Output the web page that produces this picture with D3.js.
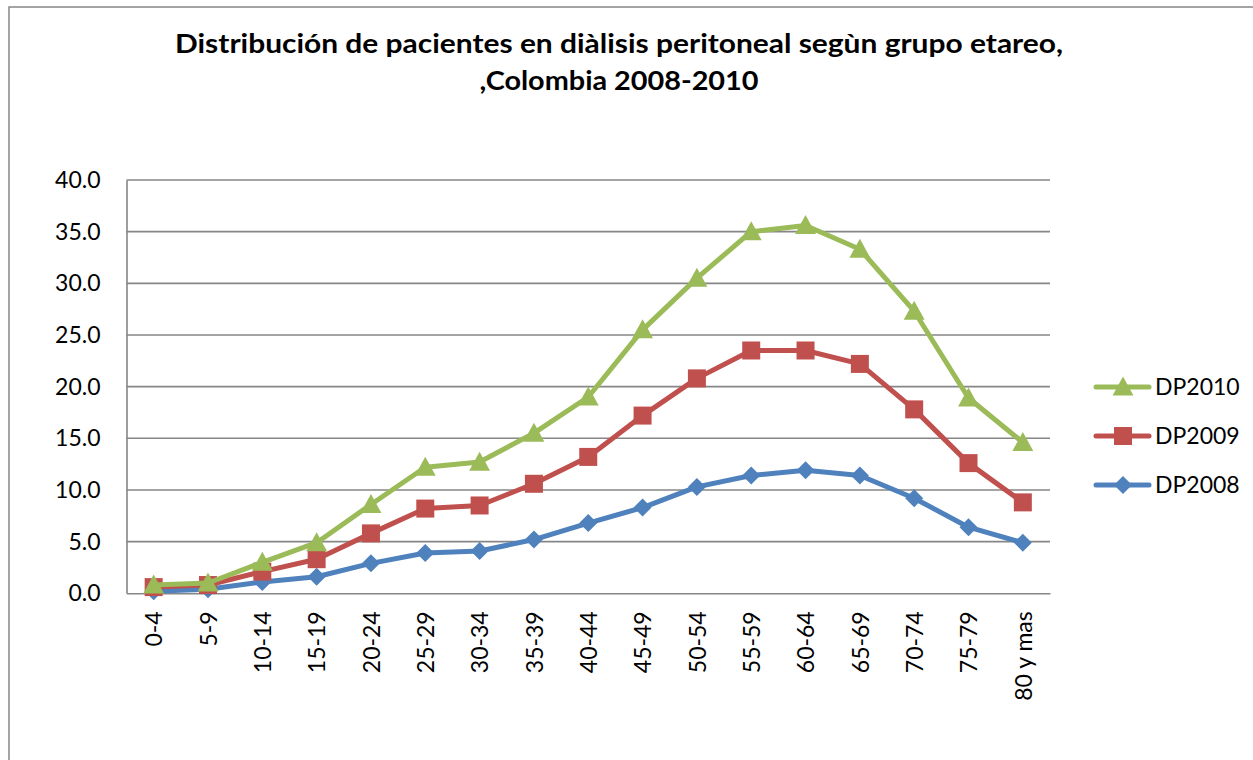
<!DOCTYPE html>
<html>
<head>
<meta charset="utf-8">
<script src="https://cdn.jsdelivr.net/npm/d3@7"></script>
<style>
  html, body { margin: 0; padding: 0; background: #fff; }
  svg { display: block; }
</style>
</head>
<body>
<svg id="chart" width="1253" height="760"></svg>
<script>
const categories = ["0-4","5-9","10-14","15-19","20-24","25-29","30-34","35-39","40-44","45-49","50-54","55-59","60-64","65-69","70-74","75-79","80 y mas"];
const dp2008 = [0.2, 0.4, 1.1, 1.6, 2.9, 3.9, 4.1, 5.2, 6.8, 8.3, 10.3, 11.4, 11.9, 11.4, 9.2, 6.4, 4.9];
const dp2009 = [0.6, 0.8, 2.1, 3.3, 5.8, 8.2, 8.5, 10.6, 13.2, 17.2, 20.8, 23.5, 23.5, 22.2, 17.8, 12.6, 8.8];
const dp2010 = [0.8, 1.0, 3.0, 4.9, 8.6, 12.2, 12.7, 15.5, 19.0, 25.5, 30.5, 35.0, 35.6, 33.3, 27.3, 18.9, 14.6];
const yTicks = [0, 5, 10, 15, 20, 25, 30, 35, 40];
const titleLines = ["Distribución de pacientes en diàlisis peritoneal segùn grupo etareo,", ",Colombia 2008-2010"];

const series = [
  { name: "DP2008", values: dp2008, color: "#4F81BD", marker: "diamond" },
  { name: "DP2009", values: dp2009, color: "#C0504D", marker: "square" },
  { name: "DP2010", values: dp2010, color: "#9BBB59", marker: "triangle" }
];

(function () {
const svg = d3.select("#chart");
const font = "Lato, 'Open Sans', sans-serif";
const pLeft = 126.5, pRight = 1050, pTop = 180, pBottom = 593.3;

// outer chart border (extends beyond view)
svg.append("rect").attr("x", 9).attr("y", 7).attr("width", 1300).attr("height", 800)
  .attr("fill", "#fff").attr("stroke", "#868686").attr("stroke-width", 1.5);

// title
const tw = [888, 279];
titleLines.forEach((t, i) => {
  svg.append("text").attr("x", 619).attr("y", 52.5 + i * 37)
    .attr("text-anchor", "middle").attr("font-family", font).attr("font-weight", "bold")
    .attr("font-size", 26).attr("fill", "#000")
    .attr("textLength", tw[i]).attr("lengthAdjust", "spacingAndGlyphs")
    .text(t);
});

const x = d3.scalePoint().domain(categories).range([pLeft, pRight]).padding(0.5);
const y = d3.scaleLinear().domain([0, 40]).range([pBottom, pTop]);

// gridlines
svg.append("g").selectAll("line").data(yTicks.filter(d => d > 0)).join("line")
  .attr("x1", pLeft).attr("x2", pRight).attr("y1", d => y(d)).attr("y2", d => y(d))
  .attr("stroke", "#868686").attr("stroke-width", 1.6);

// axes
const yAxis = svg.append("g").attr("transform", `translate(${pLeft},0)`)
  .call(d3.axisLeft(y).tickValues(yTicks).tickFormat(d3.format(".1f")).tickSize(0).tickPadding(26));
yAxis.select(".domain").attr("stroke", "#868686").attr("stroke-width", 1.6);
yAxis.selectAll("text").attr("font-family", font).attr("font-size", 23).attr("fill", "#000");

const xAxis = svg.append("g").attr("transform", `translate(0,${pBottom})`)
  .call(d3.axisBottom(x).tickSize(0).tickPadding(0));
xAxis.select(".domain").attr("stroke", "#868686").attr("stroke-width", 1.6);
xAxis.selectAll("text")
  .attr("font-family", font).attr("font-size", 23).attr("fill", "#000")
  .attr("text-anchor", "end")
  .attr("transform", "rotate(-90)")
  .attr("x", -18).attr("y", 0).attr("dy", "0.36em");

function markerPath(type, s) {
  if (type === "diamond") return `M0,${-s}L${s},0L0,${s}L${-s},0Z`;
  if (type === "square") return `M${-s},${-s}H${s}V${s}H${-s}Z`;
  return `M0,${-s * 1.1}L${s * 1.1},${s * 0.9}L${-s * 1.1},${s * 0.9}Z`;
}
const markerSize = { diamond: 9, square: 9, triangle: 9.5 };

const line = d3.line().x((d, i) => x(categories[i])).y(d => y(d));

series.forEach(s => {
  const g = svg.append("g");
  g.append("path").datum(s.values).attr("d", line)
    .attr("fill", "none").attr("stroke", s.color).attr("stroke-width", 5)
    .attr("stroke-linejoin", "round").attr("stroke-linecap", "round");
  g.selectAll("path.m").data(s.values).join("path").attr("class", "m")
    .attr("d", markerPath(s.marker, markerSize[s.marker]))
    .attr("transform", (d, i) => `translate(${x(categories[i])},${y(d)})`)
    .attr("fill", s.color);
});

// legend
const legendItems = [series[2], series[1], series[0]];
const legendY = [387, 436, 485];
legendItems.forEach((s, i) => {
  const g = svg.append("g").attr("transform", `translate(0,${legendY[i]})`);
  g.append("line").attr("x1", 1096).attr("x2", 1149).attr("y1", 0).attr("y2", 0)
    .attr("stroke", s.color).attr("stroke-width", 5).attr("stroke-linecap", "round");
  g.append("path").attr("d", markerPath(s.marker, markerSize[s.marker]))
    .attr("transform", "translate(1123,0)").attr("fill", s.color);
  g.append("text").attr("x", 1155).attr("y", 0).attr("dy", "0.36em")
    .attr("font-family", font).attr("font-size", 23).attr("fill", "#000")
    .text(s.name);
});
})();
</script>
</body>
</html>
